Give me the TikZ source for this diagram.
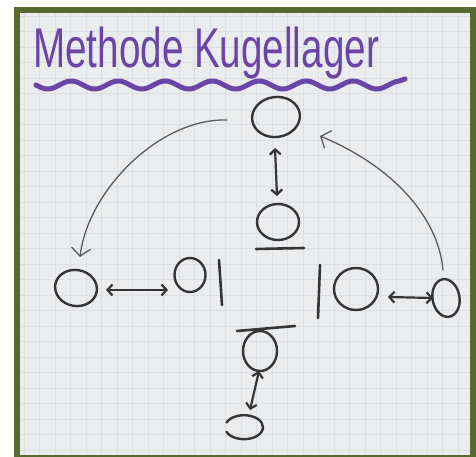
\documentclass[tikz,border=0pt]{standalone}
\usepackage{fontspec}
\setmainfont{Liberation Sans}
\usetikzlibrary{shapes.geometric,arrows.meta,calc}
\definecolor{framec}{HTML}{566B30}
\definecolor{paperc}{HTML}{EAECEE}
\definecolor{gridc}{HTML}{DCDFE3}
\definecolor{ink}{HTML}{353535}
\definecolor{pencil}{HTML}{5C5C5C}
\definecolor{violetc}{HTML}{6A45A8}
\tikzset{
  ball/.style={ellipse, draw=ink, line width=2.4pt, inner sep=0pt},
  bar/.style={draw=ink, line width=2.6pt, line cap=round},
  swap/.style={draw=ink, line width=2.2pt, line cap=round,
    {Straight Barb[length=5pt,width=11pt]}-{Straight Barb[length=5pt,width=11pt]}},
  move/.style={draw=pencil, line width=1.3pt, line cap=round,
    -{Straight Barb[length=8pt,width=19pt]}},
}
\begin{document}
\begin{tikzpicture}[x=1pt,y=-1pt]
\useasboundingbox (0,0) rectangle (476,457);
\fill[white] (0,0) rectangle (476,457);
\fill[framec] (14,7) rectangle (476,457);
\fill[paperc] (20,13) rectangle (470,455);
\begin{scope}[gridc, line width=0.5pt]
  \foreach \i in {0,...,28} {\draw ({24+15.5*\i},13) -- ({24+15.5*\i},455);}
  \foreach \j in {0,...,28} {\draw (20,{16+15.5*\j}) -- (470,{16+15.5*\j});}
\end{scope}

% title
\node[anchor=base west, inner sep=0pt, text=violetc,
      font=\fontsize{56}{56}\selectfont, xscale=0.69] (title) at (33,68) {Methode Kugellager};
\draw[violetc, line width=5pt, line cap=round, line join=round]
  plot[domain=36:399, samples=160, smooth] (\x,{85+4*sin((\x-36)/47*360)}) -- (405,79);

% balls
\node[ball, minimum width=48pt, minimum height=40pt, rotate=8] (A) at (276,117) {};
\node[ball, minimum width=42pt, minimum height=36pt] (B) at (278,222) {};
\node[ball, minimum width=31pt, minimum height=34pt] (C) at (190,275) {};
\node[ball, minimum width=42pt, minimum height=36pt, rotate=-10] (D) at (76,288) {};
\node[ball, minimum width=44pt, minimum height=42pt] (E) at (356,289) {};
\node[ball, minimum width=27pt, minimum height=38pt, rotate=10] (F) at (446,298) {};
\node[ball, minimum width=34pt, minimum height=40pt] (G) at (260,351) {};
\node[ellipse, minimum width=38pt, minimum height=24pt, inner sep=0pt] (H) at (244,427) {};
\draw[ink, line width=2.4pt, line cap=round]
  ($(H.center)+(-17.5pt,4.5pt)$) arc[start angle=157, end angle=-157, x radius=19pt, y radius=12pt];

% bars
\draw[bar] (256,249) -- (304,248);
\draw[bar] (219,260) -- (222,305);
\draw[bar] (320,265) -- (318,318);
\draw[bar] (237,331) -- (295,326);

% swaps
\coordinate (ab1) at (275,148);
\coordinate (ab2) at (277,196);
\draw[swap] (ab1) -- (ab2);
\coordinate (dc1) at (106,290);
\coordinate (dc2) at (168,290);
\draw[swap] (dc1) -- (dc2);
\coordinate (ef1) at (388,297);
\coordinate (ef2) at (433,298);
\draw[swap] (ef1) -- (ef2);
\coordinate (gh1) at (259,371);
\coordinate (gh2) at (250,410);
\draw[swap] (gh1) -- (gh2);

% rotation arrows
\coordinate (ad1) at (227,120);
\coordinate (ad2) at (80,257);
\draw[move] (ad1) .. controls (160,118) and (88,190) .. (ad2);
\coordinate (fa1) at (443,270);
\coordinate (fa2) at (320,136);
\draw[move] (fa1) .. controls (438,215) and (390,165) .. (fa2);
\end{tikzpicture}
\end{document}
